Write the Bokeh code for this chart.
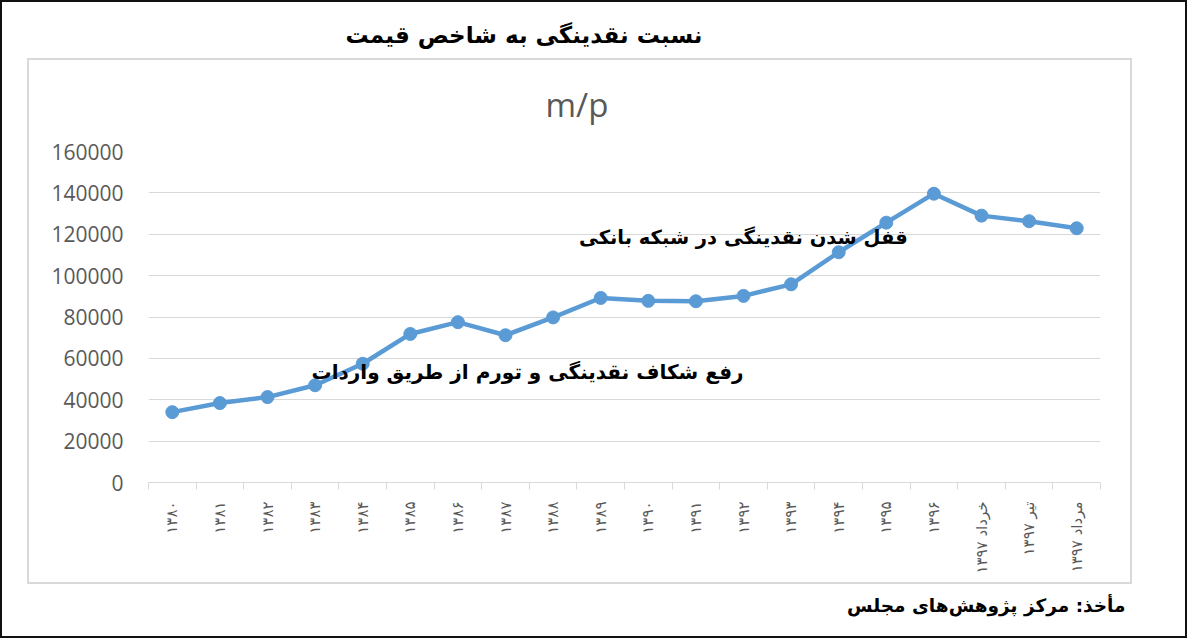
import math
from bokeh.plotting import figure
from bokeh.models import Label, FixedTicker, Range1d, NumeralTickFormatter, Title
from bokeh.embed import file_html
from bokeh.resources import INLINE

categories = ["۱۳۸۰", "۱۳۸۱", "۱۳۸۲", "۱۳۸۳", "۱۳۸۴", "۱۳۸۵", "۱۳۸۶", "۱۳۸۷",
              "۱۳۸۸", "۱۳۸۹", "۱۳۹۰", "۱۳۹۱", "۱۳۹۲", "۱۳۹۳", "۱۳۹۴", "۱۳۹۵",
              "۱۳۹۶", "خرداد ۱۳۹۷", "تیر ۱۳۹۷", "مرداد ۱۳۹۷"]
m_over_p = [34000, 38400, 41300, 47000, 57400, 71800, 77500, 71200, 79800, 89200,
            87800, 87600, 90200, 95800, 111300, 125600, 139600, 129000, 126300, 122900]
y_ticks = [0, 20000, 40000, 60000, 80000, 100000, 120000, 140000, 160000]

title_text = "نسبت نقدینگی به شاخص قیمت"
subtitle_text = "m/p"
note_lock = "قفل شدن نقدینگی در شبکه بانکی"
note_gap = "رفع شکاف نقدینگی و تورم از طریق واردات"
source_text = "مأخذ: مرکز پژوهش‌های مجلس"

W, H = 1187, 638
FR_LEFT, FR_RIGHT, FR_TOP, FR_BOTTOM = 148, 1100, 151, 482
FA = "DejaVu Sans"
FL = "Open Sans"
GRAY = "#595959"
BLUE = "#5B9BD5"
LIGHT = "#d9d9d9"

n = len(categories)
xs = list(range(n))
Y_MAX = 160000

p = figure(width=W, height=H, output_backend="svg", toolbar_location=None,
           x_range=Range1d(-0.5, n - 0.5), y_range=Range1d(0, Y_MAX),
           min_border_left=FR_LEFT, min_border_right=W - FR_RIGHT,
           min_border_top=FR_TOP, min_border_bottom=H - FR_BOTTOM)
p.outline_line_color = None
p.background_fill_color = "white"
p.border_fill_alpha = 0


def bar(color, x, y, w, h):
    return f"linear-gradient({color},{color}) {x}px {y}px / {w}px {h}px no-repeat"


# chart-area frame (light gray) and outer black frame, drawn as page decoration
frame_layers = [
    bar(LIGHT, 27, 58, 1105, 2), bar(LIGHT, 27, 582, 1105, 2),
    bar(LIGHT, 27, 58, 2, 526), bar(LIGHT, 1130, 58, 2, 526),
    bar("#111", 0, 0, W, 2), bar("#111", 0, H - 2, W, 2),
    bar("#111", 0, 0, 2, H), bar("#111", W - 2, 0, 2, H),
]
p.styles = {"background": ", ".join(frame_layers) + ", white"}

p.xgrid.grid_line_color = None
p.ygrid.grid_line_color = LIGHT
p.ygrid.grid_line_width = 1

p.yaxis.ticker = FixedTicker(ticks=y_ticks)
p.yaxis.formatter = NumeralTickFormatter(format="0")
p.yaxis.axis_line_color = None
p.yaxis.major_tick_line_color = None
p.yaxis.minor_tick_line_color = None
p.yaxis.major_tick_out = 0
p.yaxis.major_tick_in = 0
p.yaxis.major_label_standoff = 25
p.yaxis.major_label_text_font = FL
p.yaxis.major_label_text_font_size = "21px"
p.yaxis.major_label_text_color = GRAY

p.xaxis.ticker = FixedTicker(ticks=xs, minor_ticks=[i - 0.5 for i in range(n + 1)])
p.xaxis.major_label_overrides = {i: c for i, c in enumerate(categories)}
p.xaxis.major_label_orientation = math.pi / 2
p.xaxis.major_tick_in = 0
p.xaxis.major_tick_out = 0
p.xaxis.minor_tick_in = 0
p.xaxis.minor_tick_out = 7
p.xaxis.minor_tick_line_color = LIGHT
p.xaxis.axis_line_color = LIGHT
p.xaxis.major_label_standoff = 12
p.xaxis.major_label_text_font = FA
p.xaxis.major_label_text_font_size = "15px"
p.xaxis.major_label_text_color = GRAY

p.line(xs, m_over_p, line_color=BLUE, line_width=4.5)
p.scatter(xs, m_over_p, size=13, color=BLUE)

# titles
p.add_layout(Title(text=subtitle_text, text_font=FL, text_font_size="33px",
                   text_font_style="normal", text_color=GRAY,
                   align="left", offset=397, standoff=49), "above")
p.add_layout(Title(text=title_text, text_font=FA, text_font_size="23px",
                   text_font_style="bold", text_color="black",
                   align="left", offset=197, standoff=16), "above")
p.add_layout(Title(text=source_text, text_font=FA, text_font_size="18.5px",
                   text_font_style="bold", text_color="black",
                   align="right", offset=-25, standoff=32), "below")

p.add_layout(Label(x=15.45, y=118500, text=note_lock,
                   text_font=FA, text_font_style="bold", text_font_size="19.5px",
                   text_align="right", text_baseline="middle", text_color="black"))
p.add_layout(Label(x=12.0, y=53500, text=note_gap,
                   text_font=FA, text_font_style="bold", text_font_size="20px",
                   text_align="right", text_baseline="middle", text_color="black"))

open("out.html", "w").write(file_html(p, INLINE))
